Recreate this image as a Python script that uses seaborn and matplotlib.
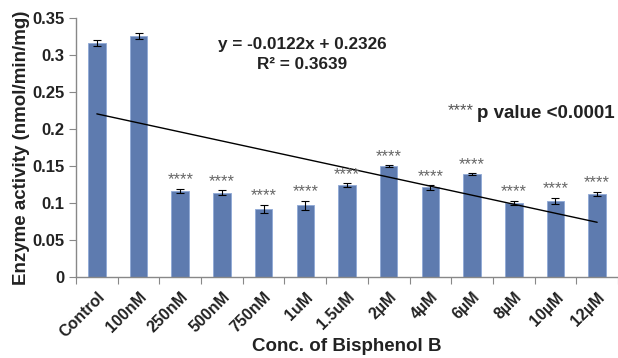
import numpy as np
import pandas as pd
import seaborn as sns
import matplotlib.pyplot as plt

concs = ['Control', '100nM', '250nM', '500nM', '750nM', '1uM', '1.5uM',
         '2µM', '4µM', '6µM', '8µM', '10µM', '12µM']
activity = [0.316, 0.325, 0.116, 0.114, 0.092, 0.097, 0.124,
            0.150, 0.121, 0.139, 0.100, 0.103, 0.112]
sem = [0.004, 0.004, 0.003, 0.003, 0.006, 0.006, 0.003,
       0.001, 0.003, 0.001, 0.003, 0.004, 0.003]
signif = ['', '', '****', '****', '****', '****', '****',
          '****', '****', '****', '****', '****', '****']
slope, intercept = -0.0122, 0.2326

df = pd.DataFrame({'conc': concs, 'activity': activity, 'err': sem})

sns.set_style("white")
plt.rcParams['font.family'] = ['Liberation Sans', 'DejaVu Sans']

fig = plt.figure(figsize=(6.18, 3.58), dpi=100)
ax = fig.add_axes([0.123, 0.226, 0.877, 0.724])

sns.barplot(x='conc', y='activity', data=df, ax=ax, color='#5078BC',
            width=0.42, edgecolor='#8FA9D6', linewidth=0.6, errorbar=None)
xs = np.arange(len(concs))
ax.errorbar(xs, df['activity'], yerr=df['err'], fmt='none', ecolor='black',
            elinewidth=0.8, capsize=3, capthick=0.8)

# linear trendline from excel
trend = slope * (xs + 1) + intercept
ax.plot(xs, trend, color='black', lw=1)

for x, v, e, s in zip(xs, activity, sem, signif):
    if s:
        ax.annotate(s, (x, v + e), xytext=(0, 1), textcoords='offset points',
                    ha='center', va='bottom', fontsize=12, color='#666666')

ax.set_ylim(0, 0.35)
ax.set_xlim(-0.5, len(concs) - 0.5)
ax.set_yticks(np.arange(0, 0.351, 0.05))
ax.set_yticklabels(['0', '0.05', '0.1', '0.15', '0.2', '0.25', '0.3', '0.35'])
ax.set_xticks(np.arange(-0.5, len(concs), 1), minor=False)
ax.set_xticklabels([])
ax.set_xticks(xs, minor=True)
ax.set_xticklabels(concs, minor=True, rotation=45, ha='right',
                   rotation_mode='anchor', fontsize=11.5, fontweight='bold',
                   color='#222222')
ax.tick_params(axis='x', which='minor', length=0, pad=9)
ax.tick_params(axis='x', which='major', length=5, color='#888888',
               direction='out', bottom=True)
ax.tick_params(axis='y', length=5, color='#888888', direction='out', left=True,
               labelsize=12, labelcolor='#222222')
for lab in ax.get_yticklabels():
    lab.set_fontweight('bold')

for sp in ['top', 'right']:
    ax.spines[sp].set_visible(False)
for sp in ['left', 'bottom']:
    ax.spines[sp].set_color('#888888')
    ax.spines[sp].set_linewidth(1)

ax.set_xlabel('Conc. of Bisphenol B', fontsize=13.5, fontweight='bold',
              color='#222222')
ax.xaxis.set_label_coords(0.5, -0.235)
ax.set_ylabel('Enzyme activity (nmol/min/mg)', fontsize=13.5,
              fontweight='bold', color='#222222')
ax.yaxis.set_label_coords(-0.085, 0.5)

fig.text(0.489, 0.877, 'y = -0.0122x + 0.2326', ha='center', va='center',
         fontsize=12.3, fontweight='bold', color='#222222')
fig.text(0.489, 0.821, 'R² = 0.3639', ha='center', va='center',
         fontsize=12.3, fontweight='bold', color='#222222')
fig.text(474 / 618, 0.69, '****', ha='right', va='center', fontsize=12,
         color='#555555')
fig.text(615 / 618, 0.684, 'p value <0.0001', ha='right', va='center',
         fontsize=13.5, fontweight='bold', color='#222222')

plt.savefig('out.png', dpi=100)
